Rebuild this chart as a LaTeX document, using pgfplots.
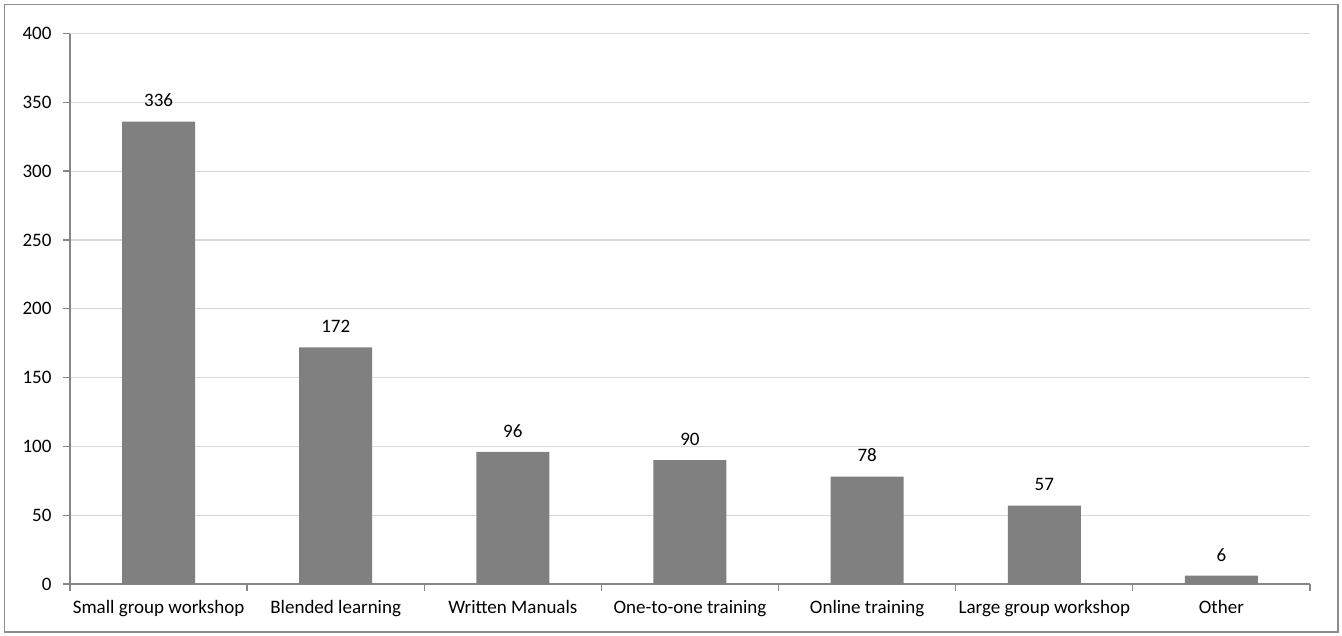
\documentclass[border=0pt]{standalone}
\usepackage{pgfplots}
\pgfplotsset{compat=1.18}
\usepackage{fontspec}
\setmainfont{Carlito}

\definecolor{barfill}{HTML}{808080}
\definecolor{gridcol}{HTML}{D9D9D9}
\definecolor{axiscol}{HTML}{868686}
\definecolor{framecol}{HTML}{8C8C8C}

\begin{document}
\begin{tikzpicture}
\begin{axis}[
  name=ax,
  scale only axis,
  width=1240pt, height=550.5pt,
  ybar, bar width=73pt,
  xmin=-0.5, xmax=6.5,
  ymin=0, ymax=400,
  ytick={0,50,...,400},
  xtick={0,...,6},
  xticklabels={Small group workshop, Blended learning, Written Manuals, One-to-one training, Online training, Large group workshop, Other},
  minor xtick={-0.5,0.5,...,6.5},
  major x tick style={draw=none},
  minor x tick style={axiscol, line width=1.3pt},
  y tick style={axiscol, line width=1.3pt},
  minor tick length=7pt,
  major tick length=7pt,
  tick align=outside,
  axis x line*=bottom,
  axis y line*=left,
  axis line style={axiscol, line width=1.3pt, -},
  ymajorgrids,
  grid style={gridcol, line width=1.2pt},
  tick label style={font=\fontsize{19}{22}\selectfont, text=black},
  yticklabel style={xshift=-8pt},
  xticklabel style={yshift=-6pt},
  /pgf/number format/assume math mode=true,
  nodes near coords,
  nodes near coords style={font=\fontsize{19}{22}\selectfont, text=black, yshift=11pt},
  clip=false,
]
\addplot[fill=barfill, draw=none] coordinates {
  (0,336) (1,172) (2,96) (3,90) (4,78) (5,57) (6,6)
};
\end{axis}
% page box and outer frame, placed from the plot area's lower left corner
\pgfresetboundingbox
\begin{scope}[shift={(ax.south west)}]
  \path[use as bounding box] (-70pt,-51pt) rectangle (1272pt,584pt);
  \draw[framecol, line width=1.4pt] (-65.5pt,-48pt) rectangle (1268pt,579.5pt);
\end{scope}
\end{tikzpicture}
\end{document}
